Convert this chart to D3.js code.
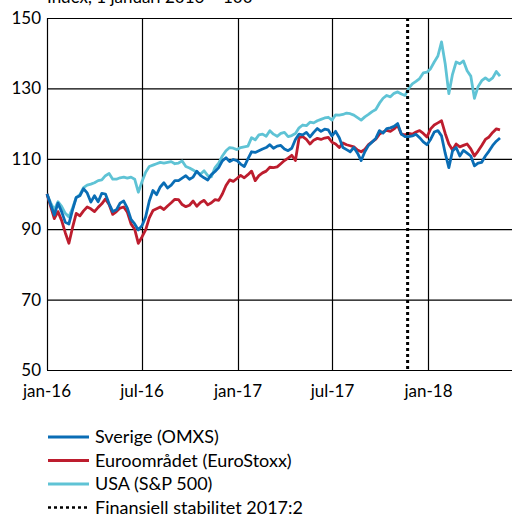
<!DOCTYPE html>
<html>
<meta charset="utf-8" />
<head>
<title>Börsindex</title>
<script src="https://cdn.jsdelivr.net/npm/d3@7"></script>
<style>
	body { margin: 0; background: #fff; }
	text { font-family: Lato, "Open Sans", sans-serif; fill: #000; }
</style>
<script>
// veckovärden, index 1 januari 2016 = 100
const startDate = new Date(2016, 0, 1);
const sverige = [100, 97, 94, 97.4, 95, 92, 91.5, 95.5, 99, 99.5,
	101.5, 100.3, 97.7, 99.5, 97.8, 100.2, 100, 97.2, 95, 95.5,
	97.4, 98, 96, 92.8, 91.5, 89.8, 91, 93.5, 98, 101,
	99.8, 102, 103.2, 101.7, 102.5, 103.8, 103.8, 104.5, 105.2, 104.2,
	104.8, 106.5, 105.3, 104.6, 104, 105.5, 106.4, 107.5, 109.4, 110.3,
	109.2, 109.8, 109.5, 108.5, 107.8, 110, 112, 111.8, 112.3, 112.8,
	113.2, 114, 113, 113.6, 113.8, 112.8, 112.3, 113, 115.5, 117,
	116.8, 117.5, 116.2, 117.5, 118.6, 117.8, 118.4, 118.2, 116.5, 117.8,
	116, 113.2, 112.6, 112, 113.2, 111.6, 109.5, 112, 113.8, 114.8,
	115.8, 118, 117.3, 118.6, 118.8, 119.2, 120, 117, 116.3, 116.3,
	116.5, 117, 116, 114.8, 114, 115.5, 117.6, 118, 116.5, 111.6,
	107.5, 112.2, 113.2, 110.8, 112.4, 111.6, 110.8, 108, 108.8, 109,
	110.8, 112.2, 113.8, 115, 115.9];
const euro = [100, 96.5, 93, 95, 92.5, 89, 86, 90.5, 94.5, 93.8,
	95.2, 96.3, 95.8, 95, 96.2, 97.2, 98.6, 97, 94.2, 95,
	96, 96.3, 94.8, 91.5, 90, 86, 87.8, 89.8, 93.2, 95.3,
	95.8, 96.3, 95.6, 96.6, 97.5, 98.5, 98.4, 97, 96.4, 96.8,
	98, 96.5, 97.6, 98.2, 96.9, 97.5, 98.4, 98.2, 100, 102.4,
	104, 103.6, 104.4, 105.3, 104.6, 105.5, 106.5, 103.8, 105.2, 106,
	106.5, 107.6, 107.5, 107.7, 108.6, 109.5, 110.2, 111, 109.5, 116,
	116.3, 115.5, 114.2, 115.3, 115.8, 115.5, 115.9, 116.1, 114.7, 114.2,
	113.2, 114.5, 114, 113.7, 113.4, 112.5, 112, 112.7, 114, 114.8,
	115.6, 117, 117.6, 118.1, 117.8, 118.5, 119.5, 117, 116.8, 117.2,
	117, 117.6, 118, 117.2, 116.2, 118.5, 119.6, 120.2, 120.8, 117.2,
	114.2, 112.5, 114.2, 113.4, 113.8, 114.2, 112.8, 110.8, 112.2, 113.8,
	115.5, 116.2, 117.5, 118.5, 118.2];
const usa = [100, 97.5, 95.5, 97.8, 96.5, 94.5, 93.5, 96, 99, 99.8,
	101.8, 102.5, 102.8, 103.2, 103.8, 104, 105.2, 105.8, 104.2, 104.2,
	104.6, 104.8, 104.5, 104.8, 104.2, 100.5, 103.5, 106.2, 107.8, 108.2,
	108.6, 109, 108.8, 109, 109.2, 108.6, 108.8, 109.4, 107.8, 107.4,
	106.8, 106.2, 105.6, 106.6, 105.2, 104.9, 107.5, 108.8, 110.8, 112.3,
	113.2, 113, 112.6, 113.2, 113.4, 113.6, 116, 115.4, 116.8, 117,
	116.4, 118, 117, 116.4, 117.2, 117.5, 116.3, 116.6, 117.2, 118.8,
	119.6, 119.4, 120.4, 120.2, 120.8, 121.2, 121.6, 121.8, 121, 122.5,
	122.4, 122.6, 123, 122.8, 122.4, 121.7, 121, 121.9, 122.6, 123.4,
	124, 125.8, 127.2, 128, 127.6, 128.6, 129, 128.4, 128, 130,
	131.3, 132, 132.8, 134.4, 134.6, 135.6, 137.5, 139.2, 143.2, 137,
	128.5, 134, 137.5, 137, 137.8, 135, 133.5, 127.2, 130.5, 132.2,
	133, 132.2, 133, 134.8, 133.5];
const fsDate = new Date(2017, 10, 22);
const yTicks = [50, 70, 90, 110, 130, 150];
const xTicks = [new Date(2016, 0, 1), new Date(2016, 6, 1), new Date(2017, 0, 1), new Date(2017, 6, 1), new Date(2018, 0, 1)];
const tickFmt = ["jan-16", "jul-16", "jan-17", "jul-17", "jan-18"];
const seriesNames = ["Sverige (OMXS)", "Euroområdet (EuroStoxx)", "USA (S&P 500)"];
const colors = ["#0a6db5", "#bd1d2e", "#5fc3d5"];
const fsLabel = "Finansiell stabilitet 2017:2";

window.onload = function() {
	const svg = d3.select('svg');
	const left = 47, right = 512, top = 18, bottom = 370;

	const x = d3.scaleTime().domain([startDate, new Date(2018, 5, 10)]).range([left, right]);
	const y = d3.scaleLinear().domain([50, 150]).range([bottom, top]);

	const dates = d3.range(sverige.length).map(i => d3.timeDay.offset(startDate, 7 * i));

	// rubrik (delvis avskuren i originalet)
	svg.append('text').attr('x', left).attr('y', 3).style('font-size', '17px')
		.text('Index, 1 januari 2016 = 100');

	// stödlinjer
	svg.selectAll('line.h').data(yTicks).enter().append('line')
		.attr('x1', left).attr('x2', right)
		.attr('y1', d => y(d) + 0.5).attr('y2', d => y(d) + 0.5)
		.style('stroke', '#000').style('stroke-width', '1.2px');
	svg.selectAll('line.v').data(xTicks).enter().append('line')
		.attr('x1', d => Math.round(x(d)) + 0.5).attr('x2', d => Math.round(x(d)) + 0.5)
		.attr('y1', top).attr('y2', bottom)
		.style('stroke', '#000').style('stroke-width', '1.2px');

	svg.selectAll('text.yt').data(yTicks).enter().append('text')
		.attr('x', 41).attr('y', d => y(d)).attr('dy', '0.35em')
		.attr('text-anchor', 'end').style('font-size', '17px')
		.text(d => d);
	svg.selectAll('text.xt').data(xTicks).enter().append('text')
		.attr('x', d => x(d)).attr('y', bottom + 27)
		.attr('text-anchor', 'middle').style('font-size', '17px')
		.text((d, i) => tickFmt[i]);

	// linjer
	const series = [sverige, euro, usa];
	const line = d3.line().x((d, i) => x(dates[i])).y(d => y(d));
	// ritordning: USA, Euro, Sverige överst
	[2, 1, 0].forEach(function(s) {
		svg.append('path').datum(series[s])
			.attr('d', line)
			.style('fill', 'none')
			.style('stroke', colors[s])
			.style('stroke-width', '2.8px')
			.style('stroke-linejoin', 'round');
	});

	// FS-linje
	svg.append('line')
		.attr('x1', x(fsDate)).attr('x2', x(fsDate))
		.attr('y1', top).attr('y2', bottom)
		.style('stroke', '#000').style('stroke-width', '3px')
		.style('stroke-dasharray', '3,3');

	// legend
	const leg = svg.append('g');
	const rows = seriesNames.concat([fsLabel]);
	rows.forEach(function(name, i) {
		const ly = 437 + i * 23.5;
		leg.append('line').attr('x1', 48).attr('x2', 89).attr('y1', ly).attr('y2', ly)
			.style('stroke', i < 3 ? colors[i] : '#000')
			.style('stroke-width', i < 3 ? '3px' : '2.5px')
			.style('stroke-dasharray', i < 3 ? null : '3,3');
		leg.append('text').attr('x', 95).attr('y', ly).attr('dy', '0.35em')
			.style('font-size', '18px').text(name);
	});
};
</script>
</head>
<body>
	<svg width="512" height="518"></svg>
</body>
</html>
